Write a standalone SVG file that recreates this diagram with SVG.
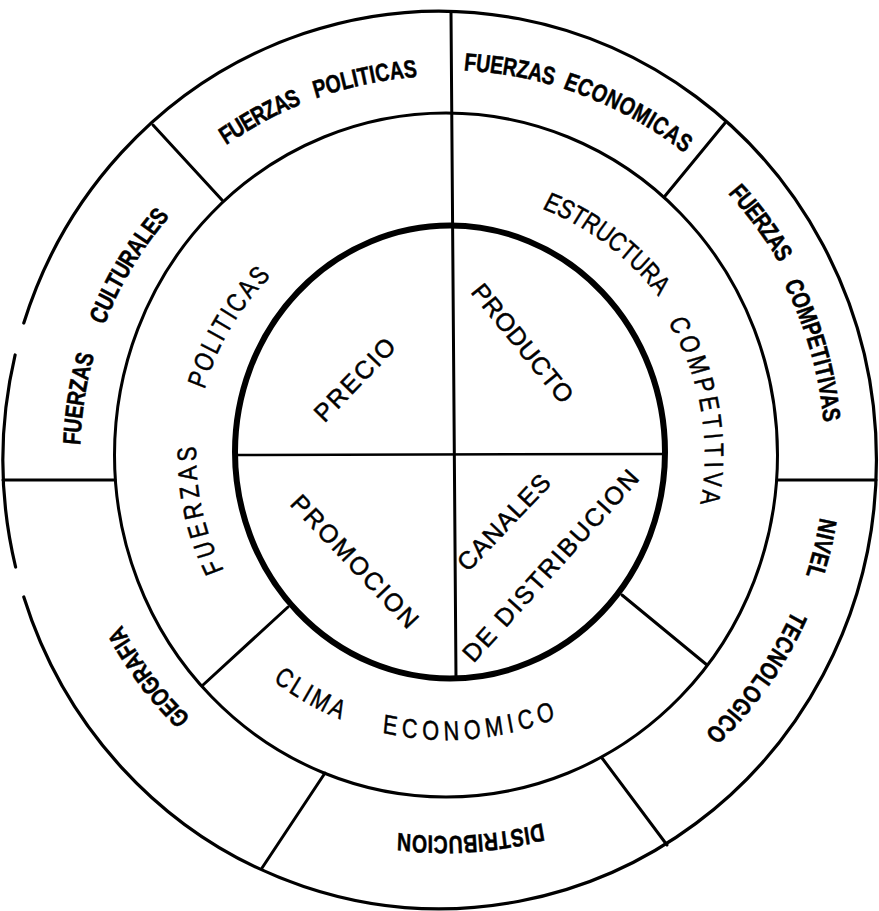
<svg xmlns="http://www.w3.org/2000/svg" width="879" height="911" viewBox="0 0 879 911">
<style>
.ln{fill:none;stroke:#000;stroke-linecap:round}
.o{font-family:"Liberation Sans",Arial,sans-serif;font-weight:bold;font-size:25px;text-anchor:middle;fill:#000;stroke:#000;stroke-width:0.5}
.m{font-family:"Liberation Sans",Arial,sans-serif;font-size:27px;text-anchor:middle;fill:#000;stroke:#000;stroke-width:0.5}
.i{font-family:"Liberation Sans",Arial,sans-serif;font-size:25px;text-anchor:middle;fill:#000;stroke:#000;stroke-width:0.5}
</style>
<defs>
<path id="p365" d="M-439.7,-124.8 A467.95,365 0 0 1 439.7,-124.8"/>
<path id="p380" d="M-457.8,-130 A487.18,380 0 0 1 457.8,-130"/>
<path id="p386" d="M-465,-132 A494.87,386 0 0 1 465,-132"/>
<path id="p251" d="M-294.8,-85.8 A313.75,251 0 0 1 294.8,-85.8"/>
<path id="p258" d="M-303,-88.2 A322.5,258 0 0 1 303,-88.2"/>
<path id="p264" d="M-310.1,-90.3 A330,264 0 0 1 310.1,-90.3"/>
<path id="p285" d="M-334.8,97.5 A356.25,285 0 0 0 334.8,97.5"/>
</defs>
<rect width="879" height="911" fill="#fff"/>
<g id="rings">
<path class="ln" stroke-width="3.2" d="M23.8,323 A436.75,448.75 0 1 1 23.8,597"/>
<path class="ln" stroke-width="3.2" d="M15.6,567 A436.75,448.75 0 0 1 15.1,355"/>
<ellipse class="ln" stroke-width="3" cx="446" cy="455" rx="331.5" ry="342"/>
<ellipse class="ln" stroke-width="6" cx="450" cy="452" rx="215" ry="226.5"/>
</g>
<g id="connectors">
<line class="ln" stroke-width="3" x1="451" y1="12" x2="456" y2="678"/>
<line class="ln" stroke-width="2.5" x1="235" y1="455" x2="665" y2="454"/>
<line class="ln" stroke-width="3" x1="153" y1="125" x2="222" y2="200"/>
<line class="ln" stroke-width="3" x1="725" y1="123" x2="665" y2="196"/>
<line class="ln" stroke-width="3" x1="3" y1="480" x2="115" y2="480"/>
<line class="ln" stroke-width="3" x1="777" y1="480" x2="876" y2="480"/>
<line class="ln" stroke-width="3" x1="325" y1="773" x2="262" y2="868"/>
<line class="ln" stroke-width="3" x1="602" y1="758" x2="667" y2="845"/>
<line class="ln" stroke-width="3" x1="288" y1="607" x2="203" y2="685"/>
<line class="ln" stroke-width="3" x1="622" y1="595" x2="707" y2="665"/>
</g>
<g id="fuerzas-politicas-ext">
<text class="o" letter-spacing="-1.1" transform="translate(445,456) rotate(-28.7) scale(0.78,1)"><textPath href="#p380" startOffset="50%">FUERZAS</textPath></text>
<text class="o" letter-spacing="0.1" transform="translate(445,456) rotate(-12) scale(0.78,1)"><textPath href="#p380" startOffset="50%">POLITICAS</textPath></text>
</g>
<g id="fuerzas-economicas">
<text class="o" letter-spacing="-0.2" transform="translate(445,456) rotate(9.5) scale(0.78,1)"><textPath href="#p386" startOffset="50%">FUERZAS</textPath></text>
<text class="o" letter-spacing="0.7" transform="translate(445,456) rotate(28.1) scale(0.78,1)"><textPath href="#p386" startOffset="50%">ECONOMICAS</textPath></text>
</g>
<g id="fuerzas-competitivas">
<text class="o" letter-spacing="-1.1" transform="translate(445,456) rotate(53.5) scale(0.78,1)"><textPath href="#p386" startOffset="50%">FUERZAS</textPath></text>
<text class="o" letter-spacing="0.1" transform="translate(445,456) rotate(74) scale(0.78,1)"><textPath href="#p380" startOffset="50%">COMPETITIVAS</textPath></text>
</g>
<g id="nivel-tecnologico">
<text class="o" letter-spacing="0.7" transform="translate(445,456) rotate(103.85) scale(0.78,1)"><textPath href="#p380" startOffset="50%">NIVEL</textPath></text>
<text class="o" letter-spacing="0.9" transform="translate(445,456) rotate(125.5) scale(0.78,1)"><textPath href="#p380" startOffset="50%">TECNOLOGICO</textPath></text>
</g>
<g id="distribucion">
<text class="o" font-size="27" letter-spacing="0.6" transform="translate(445,456) rotate(176.2) scale(0.78,1)"><textPath href="#p380" startOffset="50%">DISTRIBUCION</textPath></text>
</g>
<g id="geografia">
<text class="o" letter-spacing="-0.3" transform="translate(445,456) rotate(233.3) scale(0.78,1)"><textPath href="#p365" startOffset="50%">GEOGRAFIA</textPath></text>
</g>
<g id="fuerzas-culturales">
<text class="o" letter-spacing="0" transform="translate(445,456) rotate(-81.1) scale(0.78,1)"><textPath href="#p365" startOffset="50%">FUERZAS</textPath></text>
<text class="o" letter-spacing="-0.4" transform="translate(445,456) rotate(-59) scale(0.78,1)"><textPath href="#p365" startOffset="50%">CULTURALES</textPath></text>
</g>
<g id="fuerzas-politicas-int">
<text class="m" letter-spacing="5.7" transform="translate(447,455) rotate(-102.15) scale(0.8,1)"><textPath href="#p251" startOffset="50%">FUERZAS</textPath></text>
<text class="m" letter-spacing="3.1" transform="translate(447,455) rotate(-59.45) scale(0.8,1)"><textPath href="#p251" startOffset="50%">POLITICAS</textPath></text>
</g>
<g id="estructura-competitiva">
<text class="m" letter-spacing="0" transform="translate(447,455) rotate(37.1) scale(0.8,1)"><textPath href="#p264" startOffset="50%">ESTRUCTURA</textPath></text>
<text class="m" letter-spacing="5.4" transform="translate(447,455) rotate(80.4) scale(0.8,1)"><textPath href="#p258" startOffset="50%">COMPETITIVA</textPath></text>
</g>
<g id="clima-economico">
<text class="m" letter-spacing="3.7" transform="translate(447,455) rotate(29.5) scale(0.8,1)"><textPath href="#p285" startOffset="50%">CLIMA</textPath></text>
<text class="m" letter-spacing="6.3" transform="translate(447,455) rotate(-5.15) scale(0.8,1)"><textPath href="#p285" startOffset="50%">ECONOMICO</textPath></text>
</g>
<g id="precio">
<text class="i" letter-spacing="1.8" y="9" transform="translate(355,378.75) rotate(-46.2)">PRECIO</text>
</g>
<g id="producto">
<text class="i" letter-spacing="0.4" y="9" transform="translate(523,343.25) rotate(50.9)">PRODUCTO</text>
</g>
<g id="promocion">
<text class="i" letter-spacing="2" y="9" transform="translate(355.75,561.75) rotate(46.55)">PROMOCION</text>
</g>
<g id="canales-distribucion">
<text class="i" letter-spacing="1" y="9" transform="translate(503.75,521.75) rotate(-46.5)">CANALES</text>
<text class="i" letter-spacing="2" y="9" transform="translate(551,564.75) rotate(-47.9)">DE DISTRIBUCION</text>
</g>
</svg>
